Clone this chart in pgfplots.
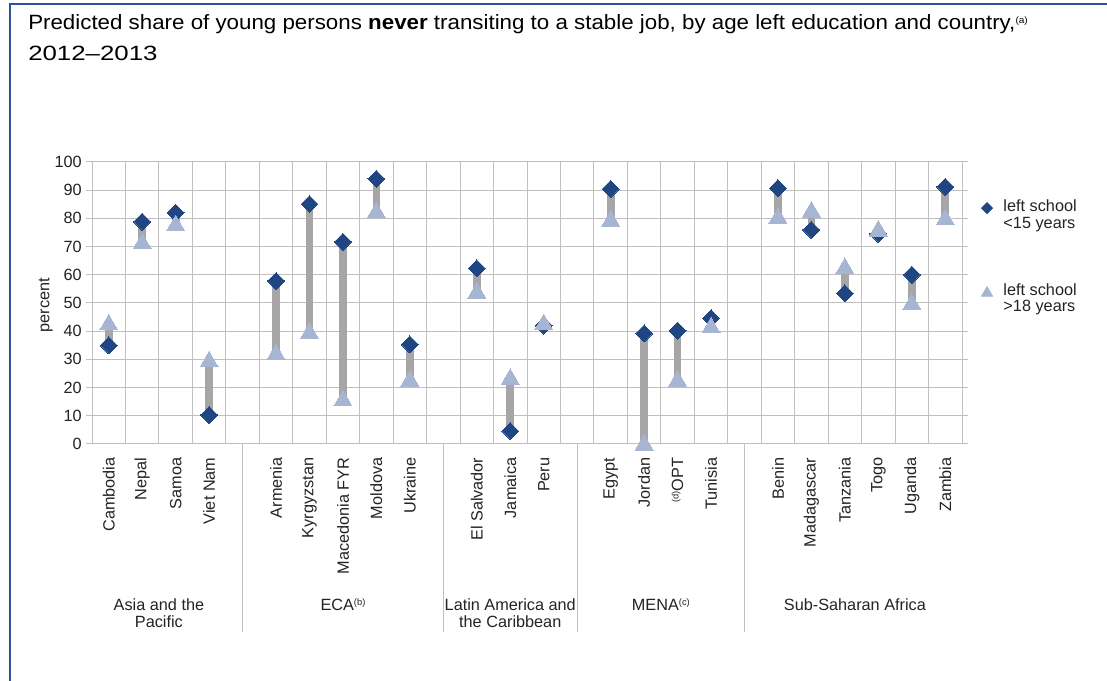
\documentclass[border=0pt]{standalone}
\usepackage{fontspec}
\setmainfont{Liberation Sans}
\usepackage{pgfplots}
\usepackage{pgfplotstable}
\pgfplotsset{compat=1.18}

\definecolor{dblue}{RGB}{31,69,130}
\definecolor{lblue}{RGB}{166,182,210}
\definecolor{bargray}{RGB}{166,166,166}
\definecolor{gridgray}{RGB}{192,192,192}
\definecolor{frameblue}{RGB}{44,84,150}
\definecolor{txt}{RGB}{35,35,35}

\newcommand{\chartfont}{\fontsize{12.2}{14}\selectfont}
\newcommand{\sups}[1]{\raisebox{0.55ex}{\fontsize{7}{8}\selectfont #1}}

% x = slot (empty slots 4, 10, 14, 19 separate the regions)
% lo15 = left school <15 years, hi18 = left school >18 years
\pgfplotstableread{
x   lo15  hi18
0   35.0  43.2
1   78.8  72.0
2   82.0  78.4
3   10.3  30.1
5   57.8  32.7
6   85.1  40.2
7   71.7  16.3
8   94.0  83.0
9   35.3  23.3
11  62.3  54.5
12   4.6  23.9
13  42.0  43.3
15  90.4  80.0
16  39.2   0.6
17  40.2  23.2
18  44.6  42.2
20  90.7  81.0
21  75.9  83.2
22  53.4  63.2
23  74.5  76.5
24  60.0  50.5
25  91.2  80.5
}\transit

\begin{document}
\begin{tikzpicture}[x=0.75pt,y=0.75pt]
\path[use as bounding box] (0,0) rectangle (1107,681);
\draw[frameblue, line width=1.7pt] (10,-3) -- (10,677) -- (1110,677);

\node[anchor=base west, inner sep=0pt, font=\fontsize{15.5}{17}\selectfont] at (28,651)
  {\scalebox{1.08}[1]{Predicted share of young persons \textbf{never} transiting to a stable job, by age left education and country,\sups{(a)}}};
\node[anchor=base west, inner sep=0pt, font=\fontsize{15.5}{17}\selectfont] at (28,620) {\scalebox{1.25}[1]{2012--2013}};

\begin{axis}[
    at={(69pt,177.75pt)}, anchor=south west,
    scale only axis, width=652.5pt, height=211.5pt,
    xmin=-0.5, xmax=25.5, ymin=0, ymax=100,
    ytick={0,10,...,100},
    xtick={0,1,2,3,5,6,7,8,9,11,12,13,15,16,17,18,20,21,22,23,24,25},
    xticklabels={Cambodia,Nepal,Samoa,Viet Nam,Armenia,Kyrgyzstan,Macedonia FYR,Moldova,Ukraine,
      El Salvador,Jamaica,Peru,Egypt,Jordan,{\sups{(d)}OPT},Tunisia,
      Benin,Madagascar,Tanzania,Togo,Uganda,Zambia},
    minor xtick={-0.5,0.5,...,25.5},
    xminorgrids=true, ymajorgrids=true,
    grid style={gridgray, line width=0.75pt},
    minor grid style={gridgray, line width=0.75pt},
    axis line style={gridgray, line width=0.75pt},
    tick align=outside, major tick length=4.5pt, minor tick length=0pt,
    xtick style={draw=none},
    ytick style={gridgray, line width=0.75pt},
    tick label style={font=\chartfont, text=txt},
    xticklabel style={rotate=90, anchor=east, inner sep=0pt},
    yticklabel style={anchor=east, inner sep=0pt},
    xticklabel shift=5.5pt, yticklabel shift=3pt,
    /pgf/number format/assume math mode=true,
    ylabel={percent},
    ylabel style={at={(axis description cs:-0.053,0.493)}, anchor=center, font=\chartfont, text=txt},
    clip=false,
    legend cell align=left,
    legend style={draw=none, fill=none, inner sep=0pt, outer sep=0pt,
      at={(axis description cs:1.0157,0.866)}, anchor=north west, row sep=0pt,
      nodes={inner sep=0pt, text height=9.1pt, text depth=3.4pt, font=\chartfont, text=txt},
      /tikz/every odd column/.append style={column sep=8pt}},
]
% connectors between the two estimates
\addplot[forget plot, only marks, mark=none,
  error bars/.cd, y dir=plus, y explicit, error mark=none,
  error bar style={draw=bargray, line width=5.8pt}]
  table[x=x, y=lo15, y error expr=\thisrow{hi18}-\thisrow{lo15}] {\transit};
\addplot[forget plot, only marks, mark=square*, mark size=4.5pt,
  mark options={rotate=45, fill=dblue, draw=dblue, line width=0pt}]
  table[x=x, y=lo15] {\transit};
\addplot[forget plot, only marks, mark=triangle*, mark size=7.8pt,
  mark options={yshift=-1.95pt, fill=lblue, draw=lblue, line width=0pt}]
  table[x=x, y=hi18] {\transit};

\addlegendimage{only marks, mark=square*, mark size=3pt, mark options={rotate=45, fill=dblue, draw=dblue}}
\addlegendentry{left school}
\addlegendimage{empty legend}\addlegendentry{<15 years}
\addlegendimage{empty legend}\addlegendentry{}
\addlegendimage{empty legend}\addlegendentry{}
\addlegendimage{empty legend}\addlegendentry{}
\addlegendimage{only marks, mark=triangle*, mark size=5pt, mark options={yshift=-1.2pt, fill=lblue, draw=lblue}}
\addlegendentry{left school}
\addlegendimage{empty legend}\addlegendentry{>18 years}

% region separators and labels
\pgfplotsinvokeforeach{4,10,14,19}{
  \draw[gridgray, line width=0.75pt] (axis cs:#1,0) -- (axis cs:#1,-66.7);
}
\begin{scope}[every node/.style={anchor=base, inner sep=0pt, font=\chartfont, text=txt}]
\node at (axis cs:1.5,-58.9) {Asia and the};
\node at (axis cs:1.5,-64.9) {Pacific};
\node at (axis cs:7,-58.9) {ECA\sups{(b)}};
\node at (axis cs:12,-58.9) {Latin America and};
\node at (axis cs:12,-64.9) {the Caribbean};
\node at (axis cs:16.5,-58.9) {MENA\sups{(c)}};
\node at (axis cs:22.3,-58.9) {Sub-Saharan Africa};
\end{scope}
\end{axis}
\end{tikzpicture}
\end{document}
